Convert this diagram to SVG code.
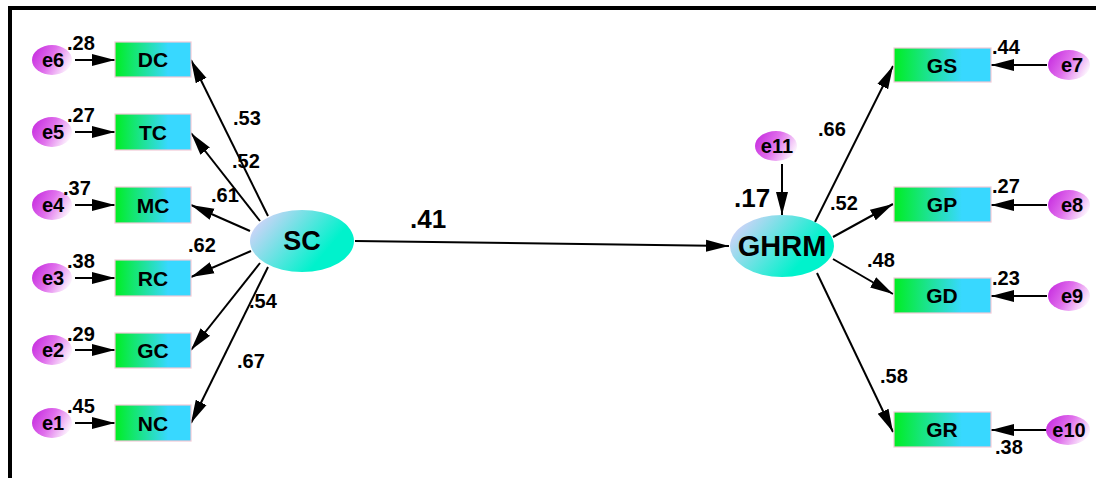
<svg xmlns="http://www.w3.org/2000/svg" width="1096" height="478" viewBox="0 0 1096 478">
<defs>
<linearGradient id="gBox" x1="0" y1="0" x2="1" y2="0">
<stop offset="0" stop-color="#00ee22"/>
<stop offset="0.7" stop-color="#38d8ff"/>
<stop offset="1" stop-color="#38d8ff"/>
</linearGradient>
<linearGradient id="gLat" x1="0" y1="0.25" x2="1" y2="0.75">
<stop offset="0" stop-color="#d6d2fa"/>
<stop offset="0.75" stop-color="#00f2cc"/>
<stop offset="1" stop-color="#00f2cc"/>
</linearGradient>
<linearGradient id="gErr" x1="0" y1="0.3" x2="1" y2="0.7">
<stop offset="0" stop-color="#c830e0"/>
<stop offset="0.45" stop-color="#e070ec"/>
<stop offset="1" stop-color="#ffffff"/>
</linearGradient>
<marker id="ah" markerUnits="userSpaceOnUse" markerWidth="24" markerHeight="14" refX="23" refY="7" orient="auto">
<path d="M0,1 L23,7 L0,13 z" fill="#000"/>
</marker>
</defs>
<style>
.box{fill:url(#gBox);stroke:#f2c8d6;stroke-width:1.2}
.lat{fill:url(#gLat);stroke:none}
.err{fill:url(#gErr);stroke:none}
.t{font-family:"Liberation Sans",Arial,sans-serif;font-weight:bold;fill:#000}
.bt{font-size:21px;text-anchor:middle}
.et{font-size:20px;text-anchor:middle}
.lt{font-size:20px}
.big{font-size:26px}
.c{stroke:#000;stroke-width:2;fill:none;marker-end:url(#ah)}
</style>
<path d="M10,478 V8 H1096" fill="none" stroke="#000" stroke-width="4"/>

<g id="connectors">
<line class="c" x1="75" y1="60" x2="115" y2="60"/>
<line class="c" x1="75" y1="132" x2="115" y2="132"/>
<line class="c" x1="75" y1="205" x2="115" y2="205"/>
<line class="c" x1="75" y1="278" x2="115" y2="278"/>
<line class="c" x1="75" y1="350" x2="115" y2="350"/>
<line class="c" x1="75" y1="423" x2="115" y2="423"/>
<line class="c" x1="268" y1="216" x2="191" y2="60"/>
<line class="c" x1="260" y1="221" x2="191" y2="133"/>
<line class="c" x1="250" y1="231" x2="191" y2="205"/>
<line class="c" x1="251" y1="251" x2="191" y2="277"/>
<line class="c" x1="260" y1="263" x2="191" y2="350"/>
<line class="c" x1="268" y1="267" x2="191" y2="423"/>
<line class="c" x1="355" y1="241" x2="729" y2="246"/>
<line class="c" x1="782" y1="164" x2="782" y2="215"/>
<line class="c" x1="815" y1="222" x2="893" y2="66"/>
<line class="c" x1="833" y1="237" x2="893" y2="204"/>
<line class="c" x1="833" y1="259" x2="893" y2="294"/>
<line class="c" x1="817" y1="273" x2="893" y2="432"/>
<line class="c" x1="1047" y1="65" x2="991" y2="65"/>
<line class="c" x1="1047" y1="205" x2="991" y2="205"/>
<line class="c" x1="1047" y1="296" x2="991" y2="296"/>
<line class="c" x1="1047" y1="430" x2="991" y2="430"/>
</g>

<g id="DC"><rect class="box" x="115" y="42" width="76" height="35"/><text class="t bt" x="153" y="67">DC</text></g>
<g id="TC"><rect class="box" x="115" y="114" width="76" height="36"/><text class="t bt" x="153" y="140">TC</text></g>
<g id="MC"><rect class="box" x="115" y="187" width="76" height="36"/><text class="t bt" x="153" y="213">MC</text></g>
<g id="RC"><rect class="box" x="115" y="260" width="76" height="36"/><text class="t bt" x="153" y="286">RC</text></g>
<g id="GC"><rect class="box" x="115" y="333" width="76" height="35"/><text class="t bt" x="153" y="358">GC</text></g>
<g id="NC"><rect class="box" x="115" y="405" width="76" height="36"/><text class="t bt" x="153" y="431">NC</text></g>

<g id="GS"><rect class="box" x="894" y="48" width="97" height="34"/><text class="t bt" x="942" y="73">GS</text></g>
<g id="GP"><rect class="box" x="894" y="187" width="97" height="35"/><text class="t bt" x="942" y="212">GP</text></g>
<g id="GD"><rect class="box" x="894" y="278" width="97" height="35"/><text class="t bt" x="942" y="303">GD</text></g>
<g id="GR"><rect class="box" x="894" y="412" width="97" height="35"/><text class="t bt" x="942" y="437">GR</text></g>

<g id="SC"><ellipse class="lat" cx="302" cy="241" rx="52" ry="31"/><text class="t" x="302" y="250" font-size="27" text-anchor="middle">SC</text></g>
<g id="GHRM"><ellipse class="lat" cx="782" cy="246" rx="52" ry="31"/><text class="t" x="782" y="256" font-size="29" text-anchor="middle">GHRM</text></g>

<g id="e6"><ellipse class="err" cx="52" cy="60" rx="20" ry="15"/><text class="t et" x="53" y="67">e6</text></g>
<g id="e5"><ellipse class="err" cx="52" cy="132" rx="20" ry="15"/><text class="t et" x="53" y="139">e5</text></g>
<g id="e4"><ellipse class="err" cx="52" cy="205" rx="20" ry="15"/><text class="t et" x="53" y="212">e4</text></g>
<g id="e3"><ellipse class="err" cx="52" cy="278" rx="20" ry="15"/><text class="t et" x="53" y="285">e3</text></g>
<g id="e2"><ellipse class="err" cx="52" cy="350" rx="20" ry="15"/><text class="t et" x="53" y="357">e2</text></g>
<g id="e1"><ellipse class="err" cx="52" cy="423" rx="20" ry="15"/><text class="t et" x="53" y="430">e1</text></g>
<g id="e7"><ellipse class="err" cx="1069" cy="65" rx="21" ry="15"/><text class="t et" x="1072" y="72">e7</text></g>
<g id="e8"><ellipse class="err" cx="1069" cy="205" rx="21" ry="15"/><text class="t et" x="1072" y="212">e8</text></g>
<g id="e9"><ellipse class="err" cx="1069" cy="296" rx="21" ry="15"/><text class="t et" x="1072" y="303">e9</text></g>
<g id="e10"><ellipse class="err" cx="1068" cy="430" rx="22" ry="15"/><text class="t et" x="1069" y="437">e10</text></g>
<g id="e11"><ellipse class="err" cx="776" cy="146" rx="21" ry="15"/><text class="t et" x="777" y="153">e11</text></g>

<g id="labels">
<text class="t lt" x="67" y="50">.28</text>
<text class="t lt" x="67" y="122">.27</text>
<text class="t lt" x="63" y="195">.37</text>
<text class="t lt" x="67" y="268">.38</text>
<text class="t lt" x="67" y="341">.29</text>
<text class="t lt" x="67" y="413">.45</text>
<text class="t lt" x="233" y="125">.53</text>
<text class="t lt" x="232" y="168">.52</text>
<text class="t lt" x="211" y="202">.61</text>
<text class="t lt" x="188" y="252">.62</text>
<text class="t lt" x="249" y="308">.54</text>
<text class="t lt" x="237" y="368">.67</text>
<text class="t big" x="410" y="228">.41</text>
<text class="t big" x="734" y="207">.17</text>
<text class="t lt" x="818" y="136">.66</text>
<text class="t lt" x="830" y="210">.52</text>
<text class="t lt" x="867" y="267">.48</text>
<text class="t lt" x="880" y="383">.58</text>
<text class="t lt" x="992" y="54">.44</text>
<text class="t lt" x="992" y="193">.27</text>
<text class="t lt" x="992" y="285">.23</text>
<text class="t lt" x="995" y="454">.38</text>
</g>
</svg>
